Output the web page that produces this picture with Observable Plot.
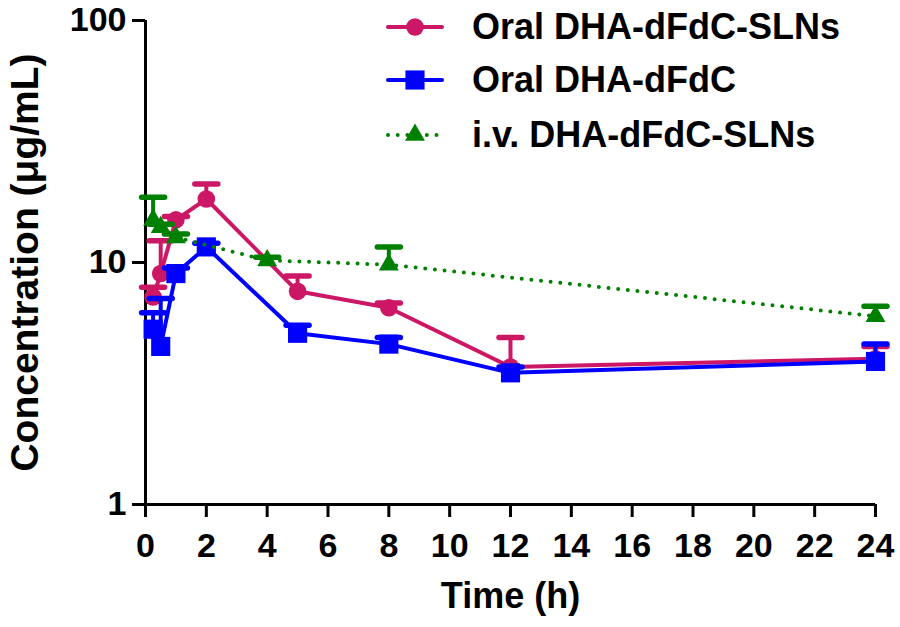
<!DOCTYPE html>
<html>
<head>
<meta charset="utf-8">
<script src="https://cdn.jsdelivr.net/npm/d3@7"></script>
<script src="https://cdn.jsdelivr.net/npm/@observablehq/plot@0.6"></script>
<style>
  body { margin: 0; background: #fff; }
  #wrap { position: relative; width: 900px; height: 627px; font-family: "Liberation Sans", Arial, sans-serif; }
  #legend { position: absolute; left: 385px; top: 0; }
  .row { position: absolute; left: 0; height: 42px; display: flex; align-items: center; white-space: nowrap; font-weight: bold; font-size: 36px; color: #000; }
  .row svg { margin-right: 27px; display: block; }
</style>
</head>
<body>
<div id="wrap"><div id="chart"></div><div id="legend"></div></div>
<script>
// ---- data ----
const seriesNames = ["Oral DHA-dFdC-SLNs", "Oral DHA-dFdC", "i.v. DHA-dFdC-SLNs"];
const seriesColors = ["#cc1766", "#0000ff", "#008000"];
const seriesSymbols = ["circle", "square", "triangle"];

const oralSlnTime = [0.25, 0.5, 1, 2, 5, 8, 12, 24];
const oralSlnMean = [7.2, 9.0, 15.0, 18.3, 7.6, 6.5, 3.7, 4.0];
const oralSlnSd   = [0.7, 3.3, 0.5, 2.8, 1.2, 0.3, 1.2, 0.5];

const oralFreeTime = [0.25, 0.5, 1, 2, 5, 8, 12, 24];
const oralFreeMean = [5.3, 4.5, 9.0, 11.6, 5.1, 4.6, 3.5, 3.9];
const oralFreeSd   = [0.9, 2.6, 0.5, 0.4, 0.4, 0.3, 0.2, 0.7];

const ivSlnTime = [0.25, 0.5, 1, 4, 8, 24];
const ivSlnMean = [15.0, 14.0, 12.7, 10.2, 9.8, 6.0];
const ivSlnSd   = [3.6, 0.4, 0.4, 0.3, 1.8, 0.6];

const xTicks = [0, 2, 4, 6, 8, 10, 12, 14, 16, 18, 20, 22, 24];
const yTicks = [1, 10, 100];
const xTitle = "Time (h)";
const yTitle = "Concentration (μg/mL)";

// ---- build tables ----
const rows = (t, m, s) => t.map((ti, i) => ({t: ti, mean: m[i], hi: m[i] + s[i]}));
const series = [
  {rows: rows(oralSlnTime, oralSlnMean, oralSlnSd), r: 8.8, dash: null},
  {rows: rows(oralFreeTime, oralFreeMean, oralFreeSd), r: 10.8, dash: null},
  {rows: rows(ivSlnTime, ivSlnMean, ivSlnSd), r: 7.4, dash: "0 9.7"}
].map((s, i) => ({...s, name: seriesNames[i], color: seriesColors[i], symbol: seriesSymbols[i]}));

const capSymbol = { draw(ctx) { ctx.moveTo(-11.5, 0); ctx.lineTo(11.5, 0); } };

const marks = [];
series.forEach(s => {
  marks.push(Plot.ruleX(s.rows, {x: "t", y1: "mean", y2: "hi", stroke: s.color, strokeWidth: 4}));
  marks.push(Plot.dot(s.rows, {x: "t", y: "hi", symbol: capSymbol, r: 1, fill: "none", stroke: s.color, strokeWidth: 5.5, strokeLinecap: "round"}));
  marks.push(Plot.line(s.rows, {x: "t", y: "mean", stroke: s.color, strokeWidth: s.dash ? 4 : 4, strokeDasharray: s.dash, strokeLinecap: "round", curve: "linear"}));
  marks.push(Plot.dot(s.rows, {x: "t", y: "mean", symbol: s.symbol, r: s.r, fill: s.color, stroke: "none"}));
});

const chart = Plot.plot({
  width: 900,
  height: 627,
  marginLeft: 145,
  marginRight: 25,
  marginTop: 20,
  marginBottom: 123,
  style: {fontFamily: "'Liberation Sans', Arial, sans-serif", background: "#fff", color: "#000", overflow: "visible"},
  x: {domain: [0, 24]},
  y: {type: "log", domain: [1, 100]},
  marks: [
    Plot.axisX({ticks: xTicks, tickSize: 13, tickPadding: 15, strokeWidth: 3, fontSize: 34, fontWeight: "bold", label: null}),
    Plot.axisY({ticks: yTicks, tickSize: 13, tickPadding: 6, strokeWidth: 3, fontSize: 34, fontWeight: "bold", tickFormat: d => String(d), label: null}),
    Plot.ruleX([0], {stroke: "#000", strokeWidth: 3}),
    Plot.ruleY([1], {stroke: "#000", strokeWidth: 3}),
    ...marks,
    Plot.text([xTitle], {text: d => d, frameAnchor: "bottom", textAnchor: "middle", lineAnchor: "middle", dy: 92, fontSize: 36, fontWeight: "bold", fill: "#000"}),
    Plot.text([yTitle], {text: d => d, frameAnchor: "left", textAnchor: "middle", lineAnchor: "middle", dx: -120, rotate: -90, fontSize: 39, fontWeight: "bold", fill: "#000"})
  ]
});
document.getElementById("chart").appendChild(chart);

// ---- legend ----
const legendCenters = [27, 80, 135];
const legend = d3.select("#legend");
series.forEach((s, i) => {
  const row = legend.append("div").attr("class", "row").style("top", (legendCenters[i] - 21) + "px");
  const svg = row.append("svg").attr("width", 60).attr("height", 24);
  svg.append("line").attr("x1", 3).attr("x2", 57).attr("y1", 12).attr("y2", 12)
    .attr("stroke", s.color).attr("stroke-width", 4)
    .attr("stroke-linecap", "round")
    .attr("stroke-dasharray", s.dash);
  svg.append("path").attr("transform", "translate(30,12)")
    .attr("d", d3.symbol(s.symbol === "circle" ? d3.symbolCircle : s.symbol === "square" ? d3.symbolSquare : d3.symbolTriangle, Math.PI * s.r * s.r)())
    .attr("fill", s.color);
  row.append("span").text(s.name);
});
</script>
</body>
</html>
